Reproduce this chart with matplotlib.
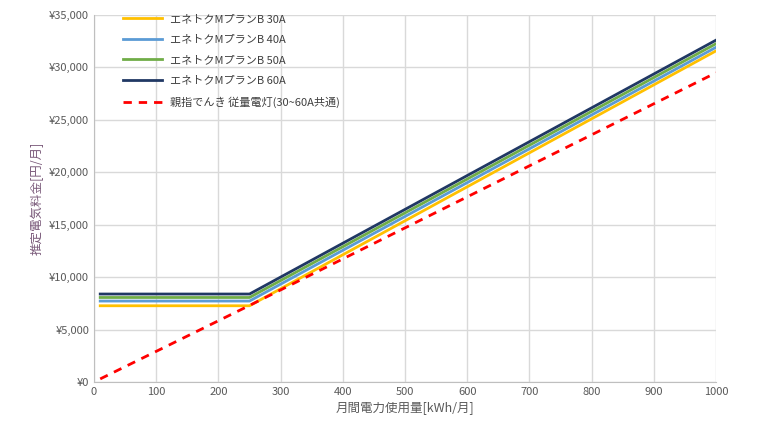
import matplotlib
matplotlib.use("Agg")
import matplotlib.pyplot as plt
from matplotlib.ticker import FuncFormatter

plt.rcParams["font.family"] = ["Noto Sans CJK JP"]

usage = [10, 250, 1000]
plan_30a = [7270, 7270, 31580]
plan_40a = [7720, 7720, 31920]
plan_50a = [8060, 8060, 32260]
plan_60a = [8390, 8390, 32600]
oyayubi_usage = [10, 250, 1000]
oyayubi = [295, 7300, 29490]

labels = ["エネトクMプランB 30A", "エネトクMプランB 40A",
          "エネトクMプランB 50A", "エネトクMプランB 60A"]
colors = ["#FFC000", "#5B9BD5", "#70AD47", "#203864"]

fig = plt.figure(figsize=(7.59, 4.48), dpi=100)
ax = fig.add_axes([94 / 759, 66 / 448, 622 / 759, 367 / 448])

for vals, lab, c in zip([plan_30a, plan_40a, plan_50a, plan_60a], labels, colors):
    ax.plot(usage, vals, color=c, lw=2, label=lab)
ax.plot(oyayubi_usage, oyayubi, color="#FF0000", lw=2, ls=(0, (3, 2.5)),
        label="親指でんき 従量電灯(30~60A共通)")

ax.set_xlim(0, 1000)
ax.set_ylim(0, 35000)
ax.set_xticks(range(0, 1001, 100))
ax.set_yticks(range(0, 35001, 5000))
ax.yaxis.set_major_formatter(FuncFormatter(lambda v, p: f"¥{int(v):,}"))
ax.grid(color="#D9D9D9", lw=1)
ax.set_axisbelow(True)
for s in ["top", "right"]:
    ax.spines[s].set_visible(False)
for s in ["left", "bottom"]:
    ax.spines[s].set_color("#BFBFBF")
ax.tick_params(length=0, labelsize=8, colors="#595959")
ax.set_xlabel("月間電力使用量[kWh/月]", fontsize=9, color="#595959")
ax.set_ylabel("推定電気料金[円/月]", fontsize=9, color="#7A5A7A")
ax.legend(loc="upper left", bbox_to_anchor=(0.03, 1.03), frameon=False,
          fontsize=8, labelcolor="#404040", handlelength=3.5, labelspacing=0.95)

fig.savefig("out.png")
